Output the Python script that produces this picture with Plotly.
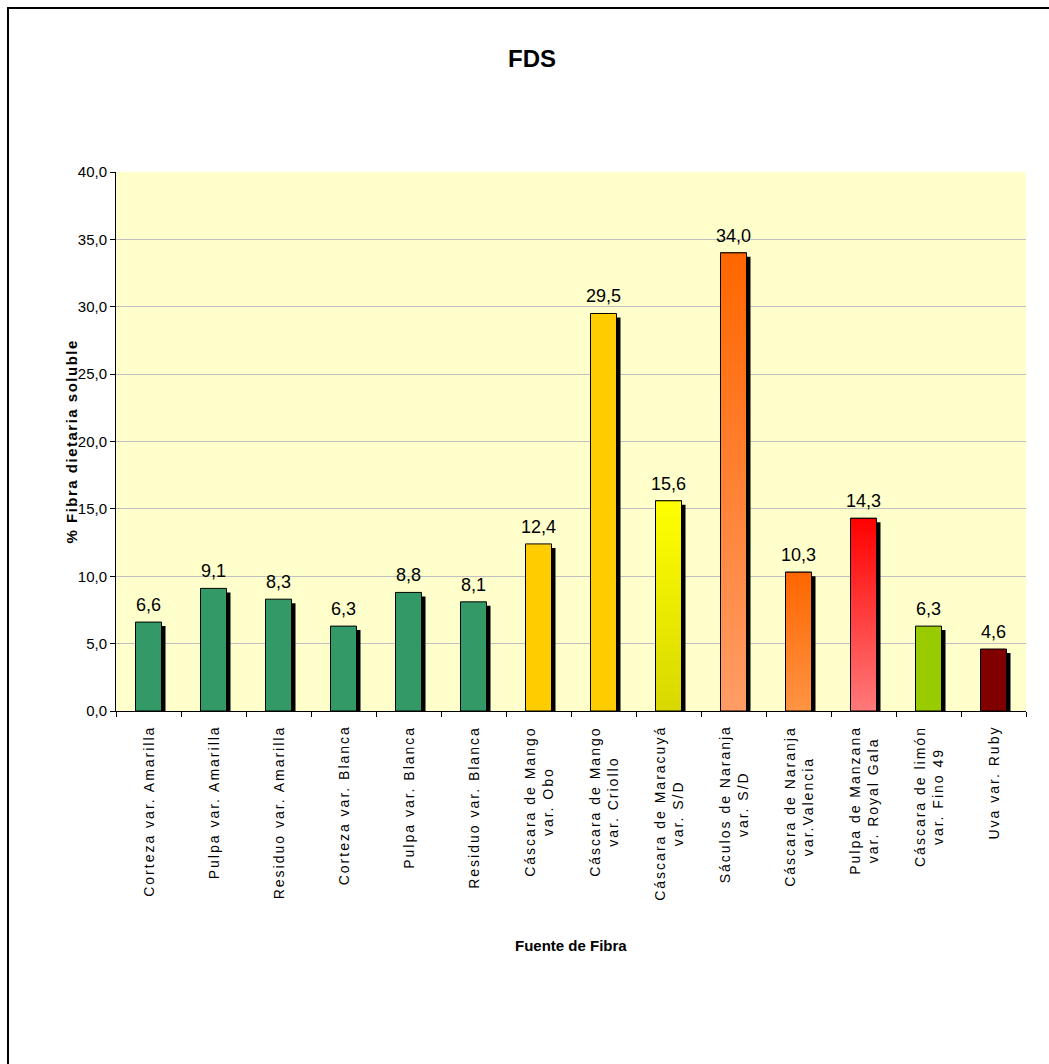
import plotly.graph_objects as go

# ---------------- data ----------------
categories = [
    "Corteza var. Amarilla",
    "Pulpa var. Amarilla",
    "Residuo var. Amarilla",
    "Corteza var. Blanca",
    "Pulpa var. Blanca",
    "Residuo var. Blanca",
    "Cáscara de Mango<br>var. Obo",
    "Cáscara de Mango<br>var. Criollo",
    "Cáscara de Maracuyá<br>var. S/D",
    "Sáculos de Naranja<br>var. S/D",
    "Cáscara de Naranja<br>var.Valencia",
    "Pulpa de Manzana<br>var. Royal Gala",
    "Cáscara de limón<br>var. Fino 49",
    "Uva var. Ruby",
]
values = [6.6, 9.1, 8.3, 6.3, 8.8, 8.1, 12.4, 29.5, 15.6, 34.0, 10.3, 14.3, 6.3, 4.6]
y_ticks = [0, 5, 10, 15, 20, 25, 30, 35, 40]

# ---------------- styles ----------------
bar_colors = ["#339966"] * 6 + ["#FFCC00", "#FFCC00", "#EEEE00", "#FF8040",
                                "#FF7D30", "#FF4040", "#99CC00", "#800000"]
# vertical gradients (bottom, top) for some bars
gradients = {
    8: ("#D8D800", "#FFFF00"),
    9: ("#FF9C66", "#FF6600"),
    10: ("#FF9444", "#FF6600"),
    11: ("#FF7A7A", "#FF0000"),
}
FONT = "Liberation Sans, Arial, sans-serif"
W, H = 1049, 1064
L, R, T, B = 116, 23, 172, 353
pw, ph = W - L - R, H - T - B
bar_w = 0.4
px_x = pw / len(categories)
px_y = ph / 40.0
sh_dx = 4 / px_x
sh_dy = 4 / px_y

idx = list(range(len(categories)))

fig = go.Figure()

# shadows
fig.add_trace(go.Bar(
    x=[i + sh_dx for i in idx], y=[v - sh_dy for v in values], width=bar_w,
    marker=dict(color="black", line=dict(width=0)), hoverinfo="skip",
    showlegend=False,
))
# main bars
fig.add_trace(go.Bar(
    x=idx, y=values, width=bar_w,
    marker=dict(color=bar_colors, line=dict(color="black", width=1)),
    showlegend=False,
))
# gradient overlays
for i, (c0, c1) in gradients.items():
    v = values[i]
    fig.add_trace(go.Scatter(
        x=[i - bar_w / 2, i + bar_w / 2, i + bar_w / 2, i - bar_w / 2, i - bar_w / 2],
        y=[0, 0, v, v, 0], mode="lines", fill="toself",
        fillgradient=dict(type="vertical", colorscale=[[0, c0], [1, c1]]),
        line=dict(color="black", width=1), hoverinfo="skip", showlegend=False,
    ))

annotations = []
for i, c in enumerate(categories):
    annotations.append(dict(
        x=i, y=0, xref="x", yref="paper", text=c, showarrow=False,
        textangle=-90, yanchor="top", xanchor="center", align="center",
        yshift=-13, font=dict(family=FONT, size=14, color="black"),
    ))
NCAT = len(annotations)
# data labels
for i, v in enumerate(values):
    annotations.append(dict(
        x=i, y=v, xref="x", yref="y", text=f"{v:.1f}".replace(".", ","),
        showarrow=False, xanchor="center", yanchor="bottom", yshift=5,
        font=dict(family=FONT, size=18, color="black"),
    ))
# axis titles
annotations.append(dict(
    x=0.5, y=(ph - (945 - T)) / ph, xref="paper", yref="paper",
    text="<b>Fuente de Fibra</b>", showarrow=False, xanchor="center", yanchor="middle",
    font=dict(family=FONT, size=15, color="black"),
))
annotations.append(dict(
    x=(71 - L) / pw, y=0.5, xref="paper", yref="paper",
    text="<b>% Fibra dietaria soluble</b>", showarrow=False, textangle=-90,
    xanchor="center", yanchor="middle",
    font=dict(family=FONT, size=15, color="black"),
))
YT_INDEX = len(annotations) - 1

fig.update_layout(
    width=W, height=H,
    margin=dict(l=L, r=R, t=T, b=B, autoexpand=False),
    paper_bgcolor="white", plot_bgcolor="#FFFFCC",
    barmode="overlay", separators=",.",
    title=dict(text="<b>FDS</b>", x=532 / W, y=1 - 59 / H, xref="container",
               yref="container", xanchor="center", yanchor="middle",
               font=dict(family=FONT, size=24, color="black")),
    xaxis=dict(range=[-0.5, len(categories) - 0.5], tickmode="array",
               tickvals=[i - 0.5 for i in range(len(categories) + 1)],
               showticklabels=False, ticks="outside", ticklen=5, tickcolor="black",
               showgrid=False, zeroline=False, showline=True, linecolor="black",
               linewidth=1),
    yaxis=dict(range=[0, 40], tickmode="array", tickvals=y_ticks,
               tickformat=".1f", ticks="outside", ticklen=5, tickcolor="black",
               showline=True, linecolor="black", linewidth=1,
               gridcolor="#C0C0C0", gridwidth=1, zeroline=False,
               tickfont=dict(family=FONT, size=15, color="black")),
    annotations=annotations,
    shapes=[dict(type="rect", xref="paper", yref="paper",
                 x0=(8 - L) / pw, x1=(1100 - L) / pw,
                 y0=(ph - (1100 - T)) / ph, y1=(ph - (8 - T)) / ph,
                 line=dict(color="black", width=2), fillcolor="rgba(0,0,0,0)",
                 layer="above")],
    font=dict(family=FONT, color="black"),
)

post = """
var gd = document.getElementById('{plot_id}');
gd.querySelectorAll('g.annotation').forEach(function(g){
  var k = parseInt(g.getAttribute('data-index'));
  var ls = null;
  if (k < NCAT) ls = 2.0; else if (k === YTI) ls = 1.5;
  if (ls === null) return;
  var t = g.querySelector('text.annotation-text');
  if (!t) return;
  var b0 = t.getBoundingClientRect();
  t.style.letterSpacing = ls + 'px';
  var b1 = t.getBoundingClientRect();
  if (k < NCAT) {
    var dy = b0.top - b1.top;
    var tr = t.getAttribute('transform') || '';
    t.setAttribute('transform', tr + ' translate(' + (-dy) + ',0)');
  }
});
""".replace("NCAT", str(NCAT)).replace("YTI", str(YT_INDEX))

fig.write_html("out.html", post_script=post)
